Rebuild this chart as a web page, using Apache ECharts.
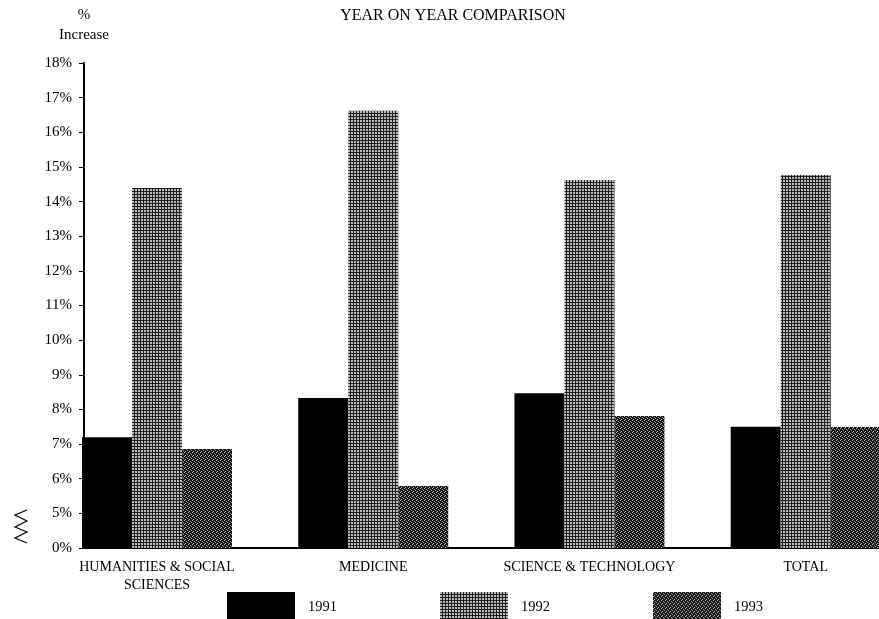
<!DOCTYPE html>
<html>
<head>
<meta charset="utf-8">
<script src="https://cdn.jsdelivr.net/npm/echarts@6/dist/echarts.min.js"></script>
<style>html,body{margin:0;padding:0;background:#fff;}#c{width:879px;height:619px;}</style>
</head>
<body>
<div id="c"></div>
<script>
// ---- data ----
const categories = ['HUMANITIES & SOCIAL\nSCIENCES', 'MEDICINE', 'SCIENCE & TECHNOLOGY', 'TOTAL'];
const years = ['1991', '1992', '1993'];
const values1991 = [7.2, 8.33, 8.47, 7.5];
const values1992 = [14.39, 16.62, 14.62, 14.77];
const values1993 = [6.86, 5.79, 7.81, 7.49];
const yTickLabels = ['0%', '5%', '6%', '7%', '8%', '9%', '10%', '11%', '12%', '13%', '14%', '15%', '16%', '17%', '18%'];

// broken axis: 0..5% compressed into one step, then 1 step per percent
function toAxis(v) { return v >= 5 ? v - 4 : v / 5; }

function makePattern(size, dark, lights) {
  const c = document.createElement('canvas');
  c.width = size; c.height = size;
  const g = c.getContext('2d');
  g.fillStyle = dark; g.fillRect(0, 0, size, size);
  lights.forEach(p => { g.fillStyle = p[2]; g.fillRect(p[0], p[1], 1, 1); });
  return { image: c, repeat: 'repeat' };
}
const pat1992 = makePattern(3, '#1e1e1e', [[0,0,'#c4c4c4'],[1,0,'#b8b8b8'],[0,1,'#b4b4b4'],[1,1,'#c0c0c0']]);
const pat1993 = makePattern(4, '#1a1a1a', [[0,0,'#b0b0b0'],[2,1,'#8a8a8a'],[1,3,'#c0c0c0'],[3,2,'#909090']]);

const font = 'Liberation Serif';
const chart = echarts.init(document.getElementById('c'), null, { renderer: 'canvas' });

function seriesOf(name, vals, color) {
  return {
    name: name, type: 'bar', barWidth: 50, barGap: '0%',
    data: vals.map((v, i) => [i, toAxis(v)]),
    itemStyle: { color: color },
    emphasis: { disabled: true }
  };
}

chart.setOption({
  animation: false,
  backgroundColor: '#fff',
  title: {
    text: 'YEAR ON YEAR COMPARISON', left: 448, top: 3, textAlign: 'center',
    textStyle: { fontFamily: font, fontSize: 16, fontWeight: 'normal', color: '#000' }
  },
  legend: {
    left: 227, top: 592, padding: 0, itemWidth: 68, itemHeight: 30, itemGap: 103,
    icon: 'rect',
    data: years,
    textStyle: { fontFamily: font, fontSize: 14.5, color: '#000', padding: [0, 0, 0, 8] }
  },
  grid: { left: 84, right: 0, top: 63, bottom: 71, containLabel: false },
  xAxis: {
    type: 'value', min: -0.3376, max: 3.339,
    axisLine: { show: true, onZero: false, lineStyle: { color: '#000', width: 2 } },
    axisTick: { show: false },
    splitLine: { show: false },
    axisLabel: {
      customValues: [0, 1, 2, 3],
      formatter: v => categories[Math.round(v)],
      fontFamily: font, fontSize: 14, color: '#000', margin: 10, lineHeight: 18, align: 'center'
    }
  },
  yAxis: {
    type: 'value', min: 0, max: 14, interval: 1,
    name: '%\nIncrease', nameLocation: 'end', nameGap: 18,
    nameTextStyle: { fontFamily: font, fontSize: 15, color: '#000', align: 'center', lineHeight: 20 },
    axisLine: { show: true, onZero: false, lineStyle: { color: '#000', width: 2 } },
    axisTick: { show: true, length: 5, lineStyle: { color: '#000', width: 1 } },
    splitLine: { show: false },
    axisLabel: {
      formatter: v => yTickLabels[Math.round(v)],
      fontFamily: font, fontSize: 15, color: '#000', margin: 12
    }
  },
  graphic: [{
    type: 'polyline', silent: true,
    shape: { points: [[27,510],[15,515],[27,521],[15,527],[27,532],[15,538],[27,543]] },
    style: { stroke: '#000', lineWidth: 1.2, fill: null }
  }],
  series: [
    seriesOf('1991', values1991, '#000'),
    seriesOf('1992', values1992, pat1992),
    seriesOf('1993', values1993, pat1993)
  ]
});
</script>
</body>
</html>
